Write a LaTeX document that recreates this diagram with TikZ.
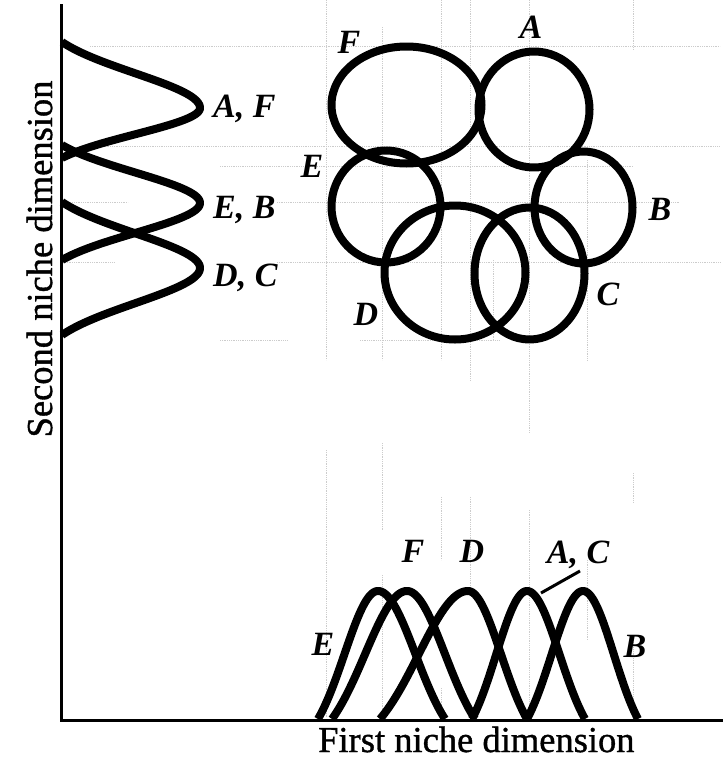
\documentclass[tikz,border=0pt]{standalone}
\usepackage{fontspec}
\setmainfont{Liberation Serif}
\tikzset{
  curve/.style={line width=8pt, line join=round},
  axisline/.style={line width=3pt},
  faint/.style={gray!40, densely dotted, line width=0.8pt},
  lbl/.style={inner sep=0pt, font=\fontsize{34}{36}\selectfont\bfseries\itshape},
  axl/.style={inner sep=0pt, font=\fontsize{36.5}{40}\selectfont\addfontfeature{FakeBold=1}},
  pointer/.style={line width=3pt}
}
\begin{document}
\begin{tikzpicture}[x=1pt,y=-1pt]
\useasboundingbox[fill=white] (0,0) rectangle (723,763);
% faint scan grid remnants
\draw[faint] (90,46) -- (720,46);
\draw[faint] (85,146) -- (720,146);
\draw[faint] (220,166) -- (633,166);
\draw[faint] (65,202) -- (128,202) (277,202) -- (680,202);
\draw[faint] (65,262) -- (115,262) (277,262) -- (720,262);
\draw[faint] (220,340) -- (287,340) (360,340) -- (500,340);
\draw[faint] (326,0) -- (326,360) (326,450) -- (326,718);
\draw[faint] (382,27) -- (382,360) (382,443) -- (382,530) (382,575) -- (382,718);
\draw[faint] (441,0) -- (441,360) (441,497) -- (441,560) (441,688) -- (441,718);
\draw[faint] (470,0) -- (470,380) (470,497) -- (470,590);
\draw[faint] (493,260) -- (493,340);
\draw[faint] (529,0) -- (529,433) (529,510) -- (529,718);
\draw[faint] (587,160) -- (587,360) (587,560) -- (587,640);
\draw[faint] (633,0) -- (633,50) (633,473) -- (633,503) (633,640) -- (633,718);
% axes
\draw[axisline] (61.5,4) -- (61.5,720) -- (723,720);
% second-dimension curves (left)
\foreach \yc/\up/\dn in {108/66/50, 203/58/57, 268/66/67}{
  \draw[curve] plot[domain=-1:1, samples=81, smooth, variable=\t]
    ({62+138*(exp(-1.8*\t*\t)-0.1653)/0.8347}, {\yc+\t*((\t<0)*\up+(\t>=0)*\dn)});
}
% first-dimension curves (bottom)
\foreach \xp/\l/\r in {378/60/67, 407/75/68, 468/88/59, 527/55/58, 583/56/55}{
  \draw[curve] plot[domain=-1:1, samples=81, smooth, variable=\t]
    ({\xp+\t*((\t<0)*\l+(\t>=0)*\r)}, {719-128*(exp(-1.6*\t*\t)-0.2019)/0.7981});
}
% niche ellipses
\draw[curve] (406.5,105) ellipse [x radius=75pt, y radius=58.5pt];
\draw[curve] (534,109.5) ellipse [x radius=55.5pt, y radius=58pt];
\draw[curve] (386,206.5) ellipse [x radius=54.5pt, y radius=56pt];
\draw[curve] (583.5,207.5) ellipse [x radius=49pt, y radius=56pt];
\draw[curve] (455,272.5) ellipse [x radius=70.5pt, y radius=67pt];
\draw[curve] (529.5,273.5) ellipse [x radius=55pt, y radius=66pt];
% ellipse labels
\node[lbl, anchor=base] (eF) at (349,53) {F};
\node[lbl, anchor=base] (eA) at (531,38) {A};
\node[lbl, anchor=base] (eE) at (312,177) {E};
\node[lbl, anchor=base] (eB) at (660,220) {B};
\node[lbl, anchor=base] (eC) at (608,305) {C};
\node[lbl, anchor=base] (eD) at (366,325) {D};
% left labels
\node[lbl, anchor=base west] (lAF) at (213,117) {A, F};
\node[lbl, anchor=base west] (lEB) at (213,218) {E, B};
\node[lbl, anchor=base west] (lDC) at (213,286) {D, C};
% bottom labels
\node[lbl, anchor=base] (bF) at (413,562) {F};
\node[lbl, anchor=base] (bD) at (472,562) {D};
\node[lbl, anchor=base] (bAC) at (578,563) {A, C};
\node[lbl, anchor=base] (bE) at (323,655) {E};
\node[lbl, anchor=base] (bB) at (635,657) {B};
\coordinate (acpt) at (541,593);
\coordinate (acend) at (580,571);
\draw[pointer] (acpt) -- (acend);
% axis labels
\node[axl, anchor=base west] (xlab) at (318,752) {First niche dimension};
\node[axl, rotate=90, anchor=base] (ylab) at (52,259) {Second niche dimension};
\end{tikzpicture}
\end{document}
